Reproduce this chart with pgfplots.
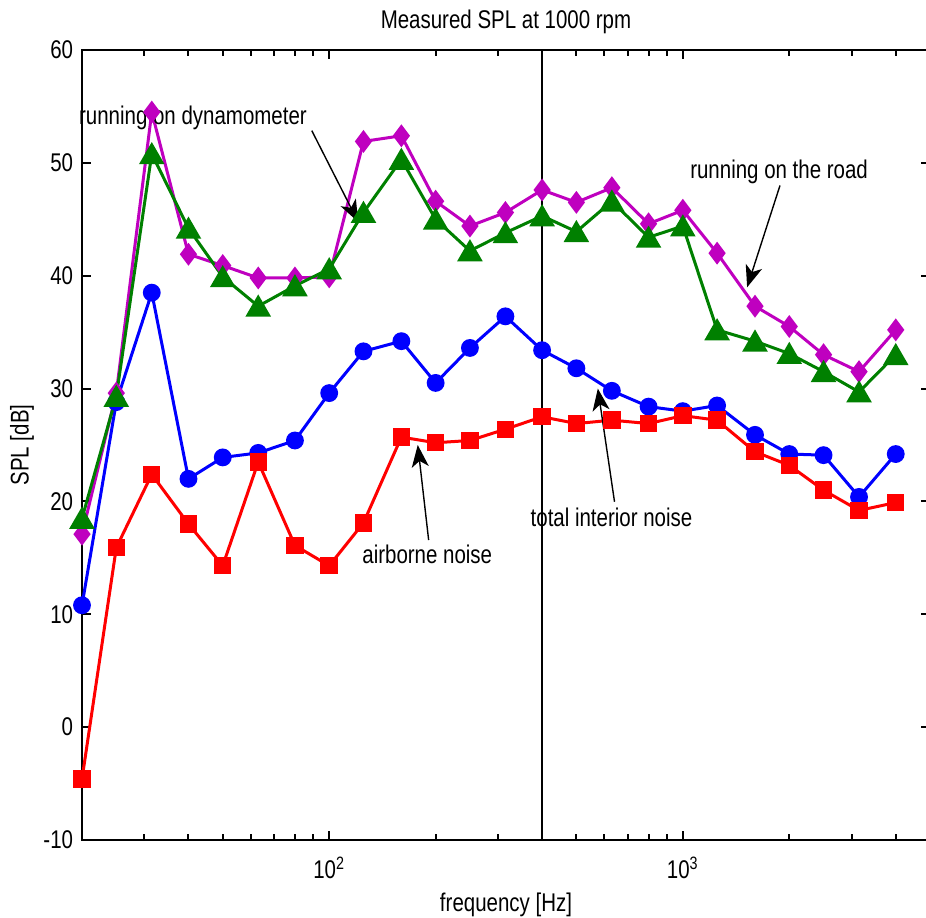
\documentclass[border=0pt]{standalone}
\usepackage{fontspec}
\setmainfont{Liberation Sans}[FakeStretch=0.8]
\usepackage{pgfplots}
\pgfplotsset{compat=1.18}
\usetikzlibrary{arrows.meta}

\definecolor{mmag}{RGB}{191,0,191}
\definecolor{mgreen}{RGB}{0,128,0}

% third-octave band levels, dB
\pgfplotstableread{
f     total  air   dyno  road
20    10.8   -4.6  18.5  17.1
25    28.8   15.9  29.3  29.6
31.5  38.5   22.4  50.8  54.5
40    22.0   18.0  44.2  41.9
50    23.9   14.3  39.9  40.9
63    24.3   23.5  37.3  39.8
80    25.4   16.1  39.1  39.8
100   29.6   14.3  40.6  39.9
125   33.3   18.1  45.6  51.9
160   34.2   25.7  50.3  52.4
200   30.5   25.2  45.0  46.6
250   33.6   25.4  42.2  44.4
315   36.4   26.4  43.8  45.6
400   33.4   27.5  45.3  47.6
500   31.8   26.9  43.9  46.5
630   29.8   27.2  46.6  47.8
800   28.4   26.9  43.4  44.6
1000  28.0   27.6  44.4  45.8
1250  28.5   27.2  35.2  42.0
1600  25.9   24.4  34.2  37.3
2000  24.2   23.2  33.1  35.5
2500  24.1   21.0  31.5  33.0
3150  20.4   19.2  29.7  31.5
4000  24.2   19.9  33.0  35.2
}\spl

\tikzset{annot/.style={-{Stealth[length=11pt,width=8.5pt,inset=3pt]}, line width=0.7pt}}

\begin{document}
\fontsize{12.8}{15}\selectfont
\begin{tikzpicture}
\begin{axis}[
  at={(0,0)}, anchor=south west,
  width=424pt, height=395pt, scale only axis,
  xmode=log, xmin=20, xmax=5000, ymin=-10, ymax=60,
  xtick={100,1000}, xticklabels={10\textsuperscript{2},10\textsuperscript{3}},
  minor xtick={20,30,40,50,60,70,80,90,200,300,400,500,600,700,800,900,2000,3000,4000},
  ytick={-10,0,...,60},
  tick align=inside,
  major tick length=4.5pt, minor tick length=2.8pt,
  tick style={black, line width=1pt},
  axis line style={line width=1.2pt},
  /pgf/number format/assume math mode=true,
  xticklabel style={yshift=-4pt},
  title={Measured SPL at 1000 rpm},
  title style={at={(axis description cs:0.5,1)}, anchor=center, yshift=8pt},
  xlabel={frequency [Hz]},
  xlabel style={at={(axis description cs:0.5,0)}, anchor=center, yshift=-32.5pt},
  ylabel={SPL [dB]},
  ylabel style={at={(axis description cs:0,0.5)}, anchor=center, yshift=30pt},
  clip=false,
  every axis plot/.append style={line width=1.5pt},
  every mark/.append style={solid, line width=0.6pt},
]
\addplot[black, line width=0.7pt, mark=none] coordinates {(400,-10) (400,60)};
\addplot[blue, mark=*, mark size=3.7pt] table[x=f, y=total] {\spl};
\addplot[red, mark=square*, mark size=3.6pt] table[x=f, y=air] {\spl};
\addplot[mmag, mark=diamond*, mark size=4.5pt] table[x=f, y=road] {\spl};
\addplot[mgreen, mark=triangle*, mark size=5.9pt, mark options={yshift=-1.5pt}] table[x=f, y=dyno] {\spl};

\node[anchor=base west, inner sep=0pt] at (axis cs:19.58,53.44) {running on dynamometer};
\node[anchor=base west, inner sep=0pt] at (axis cs:1047,48.63) {running on the road};
\node[anchor=base west, inner sep=0pt] at (axis cs:370.4,17.82) {total interior noise};
\node[anchor=base west, inner sep=0pt] at (axis cs:123.8,14.51) {airborne noise};

\draw[annot] (axis cs:89.3,52.85) -- (axis cs:120.8,44.76);
\draw[annot] (axis cs:1883,48.0) -- (axis cs:1520,38.97);
\draw[annot] (axis cs:641,19.97) -- (axis cs:575,30.0);
\draw[annot] (axis cs:191.1,16.58) -- (axis cs:178,25.0);
\end{axis}
\pgfresetboundingbox
\path[use as bounding box] (-41pt,-38.5pt) rectangle (422pt,420pt);
\end{tikzpicture}
\end{document}
